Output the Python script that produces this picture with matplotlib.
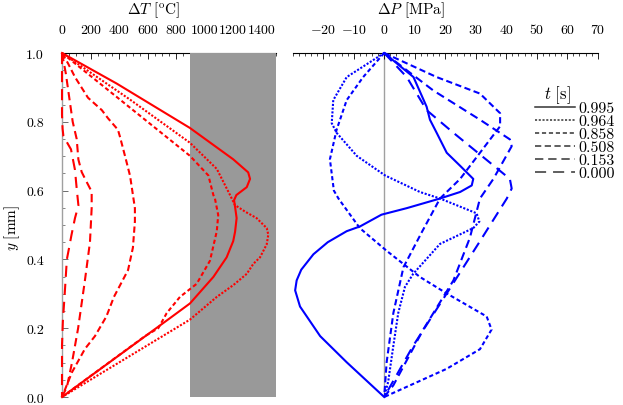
import matplotlib
matplotlib.use("Agg")
import matplotlib.pyplot as plt
from matplotlib.lines import Line2D
from matplotlib.ticker import FixedLocator, MultipleLocator

plt.rcParams.update({
    "font.family": "cmr10",
    "mathtext.fontset": "cm",
    "axes.unicode_minus": False,
    "font.size": 10,
    "lines.scale_dashes": False,
    "axes.formatter.use_mathtext": True,
})

# ---------------- data ----------------
times = ["0.995", "0.964", "0.858", "0.508", "0.153", "0.000"]

# Temperature rise Delta T [C] vs y [mm]
y_T_0995 = [1.0, 0.911, 0.782, 0.691, 0.653, 0.634, 0.61, 0.587, 0.572, 0.55, 0.52, 0.48, 0.453, 0.406, 0.349, 0.272, 0.229, 0.0]
dT_0995 = [0, 384, 897, 1200, 1305, 1318, 1295, 1222, 1206, 1214, 1224, 1213, 1200, 1154, 1061, 897, 756, 0]

y_T_0964 = [1.0, 0.863, 0.739, 0.663, 0.587, 0.558, 0.539, 0.52, 0.491, 0.472, 0.444, 0.406, 0.387, 0.358, 0.325, 0.291, 0.225, 0.12, 0.0]
dT_0964 = [0, 482, 897, 1085, 1178, 1212, 1283, 1364, 1435, 1446, 1435, 1388, 1341, 1295, 1200, 1085, 897, 478, 0]

y_T_0858 = [1.0, 0.85, 0.701, 0.644, 0.587, 0.577, 0.529, 0.482, 0.396, 0.329, 0.291, 0.244, 0.2, 0.177, 0.12, 0.0]
dT_0858 = [0, 450, 897, 1026, 1061, 1072, 1095, 1085, 1037, 944, 827, 734, 675, 582, 394, 0]

y_T_0508 = [1.0, 0.97, 0.93, 0.87, 0.834, 0.81, 0.777, 0.757, 0.7, 0.643, 0.549, 0.51, 0.434, 0.369, 0.291, 0.234, 0.177, 0.14, 0.072, 0.0]
dT_0508 = [0, 42, 91, 182, 279, 323, 392, 406, 442, 477, 511, 511, 497, 463, 364, 311, 231, 161, 70, 0]

y_T_0153 = [1.0, 0.94, 0.8, 0.75, 0.69, 0.654, 0.625, 0.597, 0.55, 0.45, 0.34, 0.2, 0.1, 0.03, 0.0]
dT_0153 = [0, 27, 75, 103, 115, 138, 173, 208, 208, 196, 161, 113, 70, 35, 0]

y_T_0000 = [1.0, 0.82, 0.78, 0.758, 0.72, 0.66, 0.606, 0.557, 0.52, 0.47, 0.43, 0.4, 0.3, 0.22, 0.15, 0.0]
dT_0000 = [0, 0, 4, 10, 63, 91, 103, 115, 91, 66, 48, 34, 19, 6, 0, 0]

# Pressure change Delta P [MPa] vs y [mm]
y_P_0995 = [1.0, 0.93, 0.844, 0.806, 0.768, 0.71, 0.672, 0.634, 0.615, 0.596, 0.577, 0.549, 0.53, 0.496, 0.482, 0.45, 0.415, 0.37, 0.339, 0.31, 0.263, 0.177, 0.101, 0.0]
dP_0995 = [0, 9.6, 13.9, 15.0, 17.2, 20.5, 24.9, 29.2, 28.7, 24.9, 18.3, 7.4, -0.9, -7.9, -12.3, -18.5, -23.2, -27.2, -28.7, -29.2, -27.6, -21.0, -12.3, 0]

y_P_0964 = [1.0, 0.93, 0.863, 0.796, 0.768, 0.701, 0.644, 0.596, 0.577, 0.534, 0.51, 0.491, 0.445, 0.358, 0.32, 0.244, 0.149, 0.044, 0.0]
dP_0964 = [0, -12.3, -16.7, -17.2, -15.6, -9.0, 0.3, 11.7, 18.3, 30.3, 31.2, 29.2, 18.3, 9.5, 6.8, 4.6, 3.0, 1.3, 0]

y_P_0858 = [1.0, 0.93, 0.863, 0.777, 0.691, 0.6, 0.577, 0.491, 0.425, 0.349, 0.301, 0.234, 0.196, 0.139, 0.082, 0.0]
dP_0858 = [0, -6.9, -12.3, -15.6, -17.8, -16.5, -15.0, -8.0, 0.8, 11.7, 20.5, 33.6, 35.2, 31.4, 20.5, 0]

y_P_0508 = [1.0, 0.93, 0.882, 0.825, 0.787, 0.71, 0.634, 0.577, 0.482, 0.377, 0.244, 0.101, 0.0]
dP_0508 = [0, 17.2, 31.4, 38.0, 38.0, 31.4, 24.9, 18.3, 12.5, 6.3, 3.0, 0.8, 0]

y_P_0153 = [1.0, 0.891, 0.806, 0.749, 0.729, 0.634, 0.577, 0.463, 0.339, 0.196, 0.034, 0.0]
dP_0153 = [0, 16.1, 31.4, 41.2, 41.8, 35.8, 31.4, 28.1, 22.7, 12.8, 3.0, 0]

y_P_0000 = [1.0, 0.93, 0.834, 0.768, 0.634, 0.606, 0.577, 0.453, 0.301, 0.149, 0.0]
dP_0000 = [0, 7.4, 13.9, 22.7, 41.2, 41.8, 40.2, 31.4, 20.5, 9.5, 0]

T_series = [(dT_0995, y_T_0995), (dT_0964, y_T_0964), (dT_0858, y_T_0858),
            (dT_0508, y_T_0508), (dT_0153, y_T_0153), (dT_0000, y_T_0000)]
P_series = [(dP_0995, y_P_0995), (dP_0964, y_P_0964), (dP_0858, y_P_0858),
            (dP_0508, y_P_0508), (dP_0153, y_P_0153), (dP_0000, y_P_0000)]

T_ticks = [0, 200, 400, 600, 800, 1000, 1200, 1400]
T_ticklabels = ["0", "200", "400", "600", "800", "1000", "1200", "1400"]
P_ticks = [-20, -10, 0, 10, 20, 30, 40, 50, 60, 70]
P_ticklabels = [r"$-20$", r"$-10$", "0", "10", "20", "30", "40", "50", "60", "70"]
y_ticks = [0.0, 0.2, 0.4, 0.6, 0.8, 1.0]
y_ticklabels = ["0.0", "0.2", "0.4", "0.6", "0.8", "1.0"]

# ---------------- styles ----------------
styles = ["-", (0, (1.5, 1.2)), (0, (3, 2)), (0, (4.5, 2.5)), (0, (6, 3.5)), (0, (8, 5))]
W, H = 623, 406

fig = plt.figure(figsize=(W / 100, H / 100), dpi=100)
axT = fig.add_axes([62 / W, 8 / H, 214 / W, 344 / H])
axP = fig.add_axes([292.7 / W, 8 / H, 305 / W, 344 / H])

# ---- left panel ----
axT.set_xlim(0, 1500)
axT.set_ylim(0, 1)
for s in ["right", "bottom"]:
    axT.spines[s].set_visible(False)
axT.spines["left"].set_color("#a0a0a0")
axT.spines["left"].set_linewidth(1.0)
axT.spines["top"].set_color("black")
axT.spines["top"].set_linewidth(0.8)
axT.xaxis.tick_top()
axT.xaxis.set_major_locator(FixedLocator(T_ticks))
axT.set_xticklabels(T_ticklabels)
axT.xaxis.set_minor_locator(MultipleLocator(50))
axT.tick_params(axis="x", which="major", direction="in", length=4, width=0.6, pad=12, top=True, bottom=False)
axT.tick_params(axis="x", which="minor", direction="in", length=2.5, width=0.5, top=True, bottom=False)
axT.yaxis.set_major_locator(FixedLocator(y_ticks))
axT.set_yticklabels(y_ticklabels)
axT.yaxis.set_minor_locator(MultipleLocator(0.05))
axT.tick_params(axis="y", which="major", direction="in", length=4, width=0.6, color="#555555", pad=13)
axT.tick_params(axis="y", which="minor", direction="in", length=2, width=0.5, color="#555555")
axT.axvspan(900, 1500, color="#999999", lw=0, zorder=2.6)

for (vals, ys), ls in zip(T_series, styles):
    axT.plot(vals, ys, color="#ff0000", lw=1.5, ls=ls, zorder=3, clip_on=False,
             solid_joinstyle="round", dash_joinstyle="round")

# ---- right panel ----
axP.set_xlim(-30, 70)
axP.set_ylim(0, 1)
for s in ["right", "bottom", "left"]:
    axP.spines[s].set_visible(False)
axP.spines["top"].set_linewidth(0.8)
axP.xaxis.tick_top()
axP.xaxis.set_major_locator(FixedLocator(P_ticks))
axP.set_xticklabels(P_ticklabels)
axP.xaxis.set_minor_locator(MultipleLocator(2))
axP.tick_params(axis="x", which="major", direction="in", length=4, width=0.6, pad=12, top=True, bottom=False)
axP.tick_params(axis="x", which="minor", direction="in", length=2.5, width=0.5, top=True, bottom=False)
axP.set_yticks([])
axP.axvline(0, color="#a0a0a0", lw=1.0, zorder=1)

for (vals, ys), ls in zip(P_series, styles):
    axP.plot(vals, ys, color="#0000ff", lw=1.5, ls=ls, zorder=3, clip_on=False,
             solid_joinstyle="round", dash_joinstyle="round")

# ---- texts ----
fig.text(153 / W, 1 - 10 / H, r"$\Delta T\ [^{\mathrm{o}}\mathrm{C}]$", ha="center", va="center", fontsize=11)
fig.text(411 / W, 1 - 10 / H, r"$\Delta P\ [\mathrm{MPa}]$", ha="center", va="center", fontsize=11)
fig.text(12 / W, 1 - 228 / H, r"$y\ [\mathrm{mm}]$", ha="center", va="center", rotation=90, fontsize=11)
fig.text(557 / W, 1 - 95 / H, r"$t\ [\mathrm{s}]$", ha="center", va="center", fontsize=12)

handles = [Line2D([], [], color="#333333", lw=1.1, ls=ls) for ls in styles]
fig.legend(handles, times, loc="upper left", bbox_to_anchor=(535 / W, 1 - 102 / H),
           frameon=False, borderpad=0, borderaxespad=0, handlelength=2.5,
           handletextpad=0.22, labelspacing=-0.07, fontsize=11.5)

fig.savefig("out.png", dpi=100)
